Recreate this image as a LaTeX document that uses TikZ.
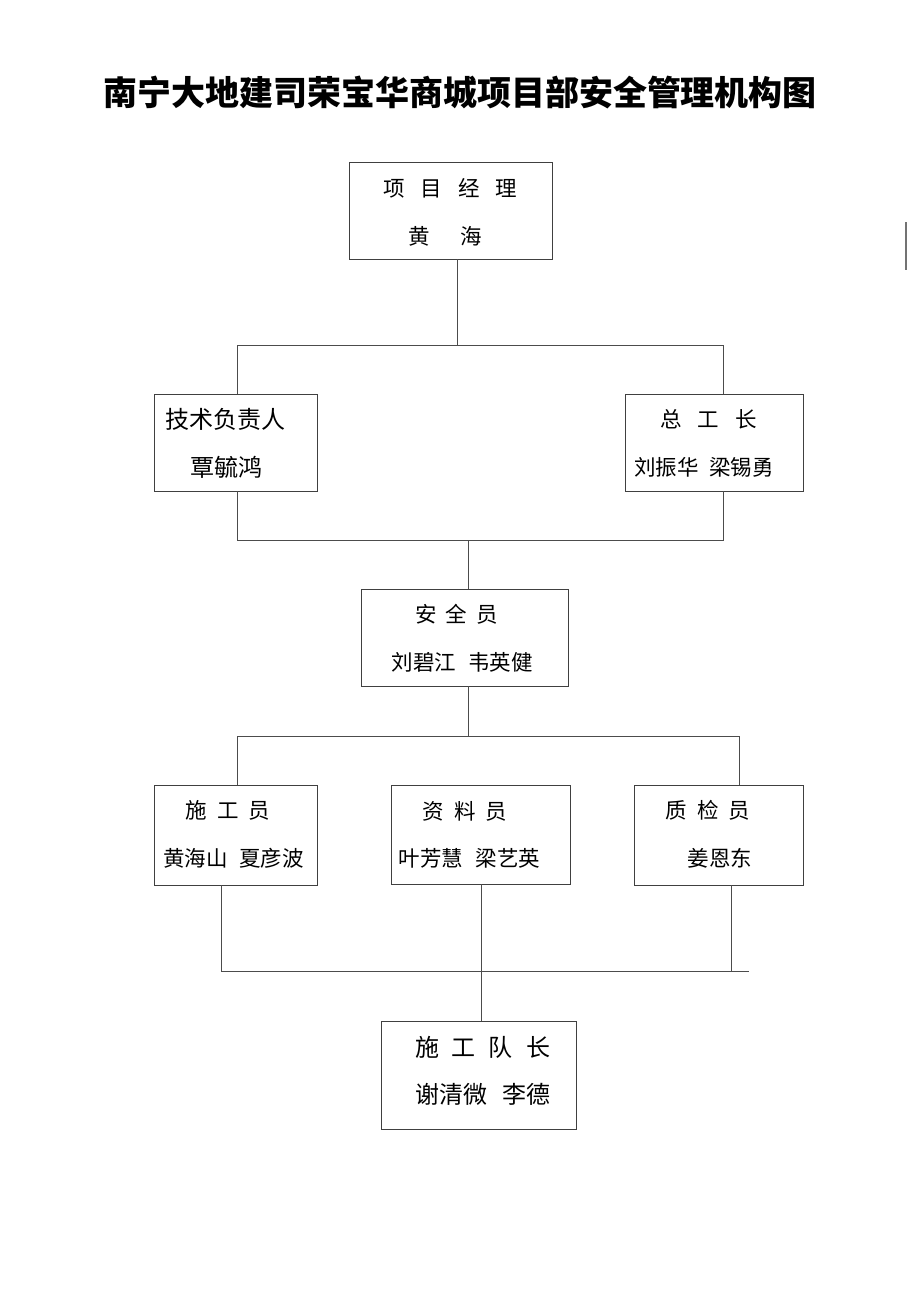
\documentclass[tikz,border=0pt]{standalone}
\usepackage{fontspec}
\newfontfamily\cjk{Noto Sans CJK SC}
\newcommand{\gp}[1]{\hspace{#1pt}}
\begin{document}
\begin{tikzpicture}[x=1pt,y=-1pt,
  box/.style={draw=black!75,line width=0.8pt,inner sep=0pt},
  conn/.style={draw=black!70,line width=0.8pt},
  lbl/.style={inner sep=0pt,font=\cjk\fontsize{21.5}{25}\selectfont},
  lblbig/.style={inner sep=0pt,font=\cjk\fontsize{24}{28}\selectfont}]
\useasboundingbox[fill=white] (0,0) rectangle (920,1302);
% title
\node[inner sep=0pt,font=\cjk\bfseries\fontsize{34}{40}\selectfont] (title) at (460,92) {南宁大地建司荣宝华商城项目部安全管理机构图};
% boxes
\node[box,minimum width=203,minimum height=97] (pm) at (450.5,210.5) {};
\node[box,minimum width=163,minimum height=97] (tech) at (235.5,442.5) {};
\node[box,minimum width=178,minimum height=97] (zgz) at (714,442.5) {};
\node[box,minimum width=207,minimum height=97] (aqy) at (464.5,637.5) {};
\node[box,minimum width=163,minimum height=100] (sgy) at (235.5,835) {};
\node[box,minimum width=179,minimum height=99] (zly) at (480.5,834.5) {};
\node[box,minimum width=169,minimum height=100] (zjy) at (718.5,835) {};
\node[box,minimum width=195,minimum height=108] (dz) at (478.5,1075) {};
% labels
\node[lbl] (pm1) at (450.5,188) {项\gp{16}目\gp{16}经\gp{16}理};
\node[lbl] (pm2) at (445,236) {黄\gp{31}海};
\node[lblbig] (tech1) at (225.5,419) {技术负责人};
\node[lblbig] (tech2) at (226,467) {覃毓鸿};
\node[lbl] (zgz1) at (708.5,419) {总\gp{16}工\gp{16}长};
\node[lbl] (zgz2) at (704,467) {刘振华\gp{11}梁锡勇};
\node[lbl] (aqy1) at (456.5,614) {安\gp{9}全\gp{9}员};
\node[lbl] (aqy2) at (462,662) {刘碧江\gp{12}韦英健};
\node[lbl] (sgy1) at (228,810) {施\gp{10}工\gp{10}员};
\node[lbl] (sgy2) at (233.5,858) {黄海山\gp{12}夏彦波};
\node[lbl] (zly1) at (465,811) {资\gp{10}料\gp{10}员};
\node[lbl] (zly2) at (469.5,858) {叶芳慧\gp{13}梁艺英};
\node[lbl] (zjy1) at (708,810) {质\gp{10}检\gp{10}员};
\node[lbl] (zjy2) at (720,858) {姜恩东};
\node[lblbig] (dz1) at (482.5,1047) {施\gp{13}工\gp{13}队\gp{13}长};
\node[lblbig] (dz2) at (482.5,1094) {谢清微\gp{15}李德};
% junction coordinates
\coordinate (j1) at (457,345);
\coordinate (j1l) at (237,345);
\coordinate (j1r) at (723,345);
\coordinate (j2) at (468,540);
\coordinate (j2l) at (237,540);
\coordinate (j2r) at (723,540);
\coordinate (j3) at (468,736);
\coordinate (j3l) at (237,736);
\coordinate (j3r) at (739,736);
\coordinate (j4l) at (221,971);
\coordinate (j4m) at (481,971);
\coordinate (j4r) at (731,971);
\coordinate (j4e) at (749,971);
% connectors
\draw[conn] (j1 |- pm.south) -- (j1);
\draw[conn] (j1l |- tech.north) -- (j1l) -- (j1r) -- (j1r |- zgz.north);
\draw[conn] (j2l |- tech.south) -- (j2l) -- (j2r) -- (j2r |- zgz.south);
\draw[conn] (j2) -- (j2 |- aqy.north);
\draw[conn] (j3 |- aqy.south) -- (j3);
\draw[conn] (j3l |- sgy.north) -- (j3l) -- (j3r) -- (j3r |- zjy.north);
\draw[conn] (j4l |- sgy.south) -- (j4l) -- (j4e);
\draw[conn] (j4r |- zjy.south) -- (j4r);
\draw[conn] (j4m |- zly.south) -- (j4m |- dz.north);
% stray mark at right edge
\coordinate (m1) at (906,222);
\coordinate (m2) at (906,270);
\draw[draw=black!55,line width=1.2pt] (m1) -- (m2);
\end{tikzpicture}
\end{document}
